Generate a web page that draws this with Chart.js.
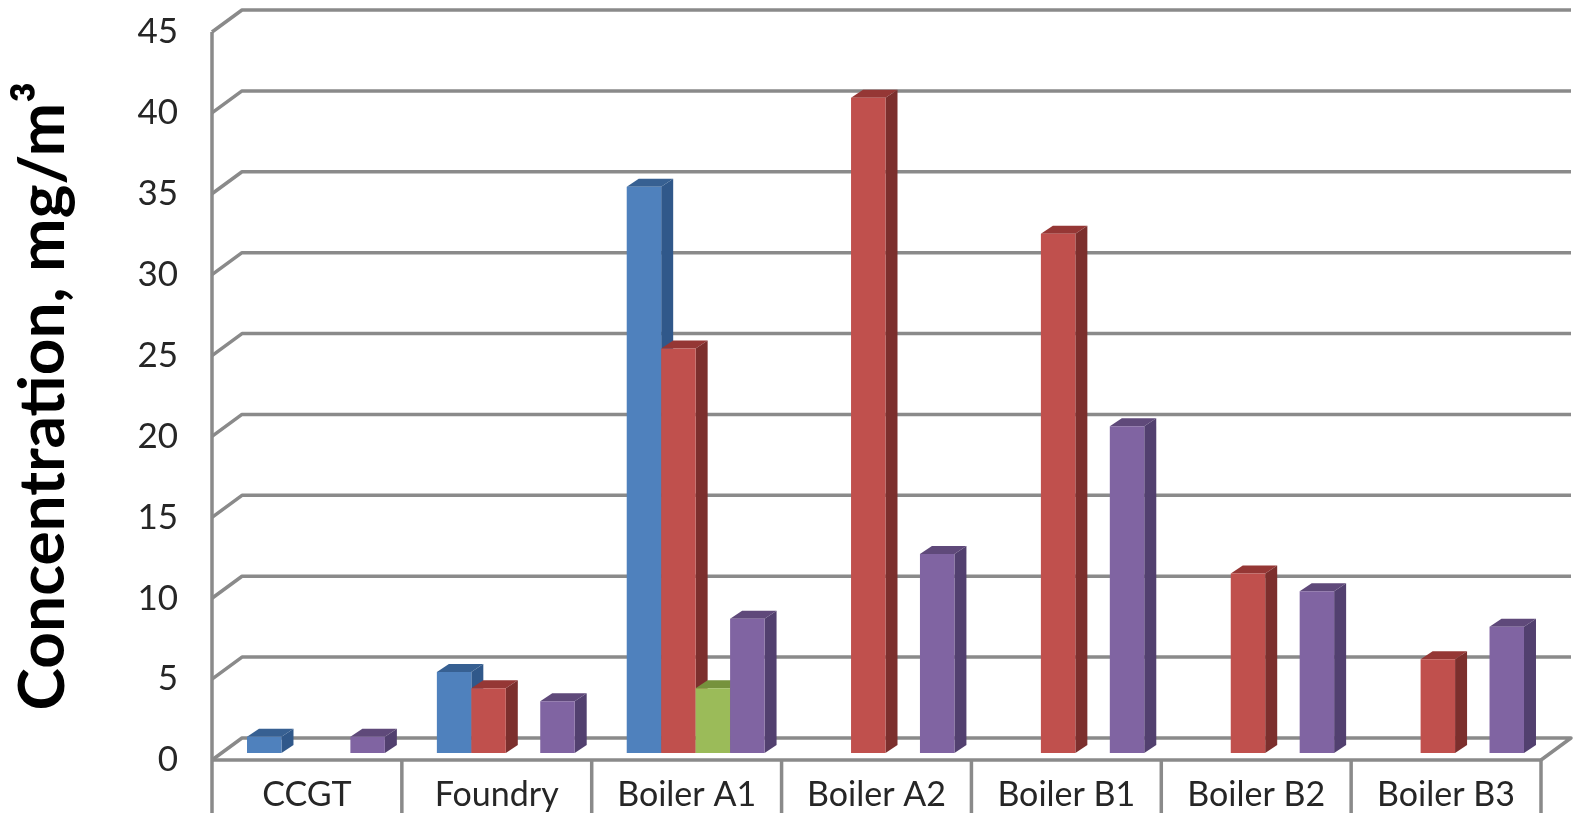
<!DOCTYPE html>
<html>
<head>
<meta charset="utf-8">
<style>
  html, body { margin: 0; padding: 0; background: #fff; overflow: hidden; }
  canvas { display: block; filter: blur(0.7px); }
</style>
<script src="https://cdn.jsdelivr.net/npm/chart.js@4"></script>
</head>
<body>
<canvas id="chart" width="1579" height="813"></canvas>
<script>
const categories = ["CCGT", "Foundry", "Boiler A1", "Boiler A2", "Boiler B1", "Boiler B2", "Boiler B3"];
const series1 = [1, 5, 35, null, null, null, null];
const series2 = [null, 4, 25, 40.5, 32.1, 11.1, 5.8];
const series3 = [null, null, 4, null, null, null, null];
const series4 = [1, 3.2, 8.3, 12.3, 20.2, 10, 7.8];
const yTicks = [0, 5, 10, 15, 20, 25, 30, 35, 40, 45];

const frontColors = ["#4f81bd", "#c0504d", "#9bbb59", "#8064a2"];
const topColors = ["#376092", "#953735", "#76923c", "#5f497a"];
const sideColors = ["#30588a", "#7c2f2d", "#647c34", "#52406f"];

const gridColor = "#8a8a8a";
const WALL_X = 30, WALL_Y = 22;   // depth of the side wall
const BAR_X = 12, BAR_Y = 8;      // depth of a bar
const SHIFT_X = 9, SHIFT_Y = -7;  // bars stand a little behind the front edge

function poly(ctx, color, pts) {
    ctx.fillStyle = color;
    ctx.beginPath();
    pts.forEach((p, i) => i ? ctx.lineTo(p[0], p[1]) : ctx.moveTo(p[0], p[1]));
    ctx.closePath();
    ctx.fill();
}

const walls3d = {
    id: "walls3d",
    beforeDatasetsDraw(chart) {
        const ctx = chart.ctx, x = chart.scales.x, y = chart.scales.y;
        ctx.save();
        ctx.strokeStyle = gridColor;
        ctx.lineWidth = 3.5;
        ctx.lineJoin = "round";
        yTicks.forEach(v => {
            const py = y.getPixelForValue(v);
            ctx.beginPath();
            ctx.moveTo(x.left, py);
            ctx.lineTo(x.left + WALL_X, py - WALL_Y);
            ctx.lineTo(x.right + WALL_X, py - WALL_Y);
            if (v === 0) ctx.lineTo(x.right, py);
            ctx.stroke();
        });
        // floor edge and the category boxes under it
        const base = y.getPixelForValue(0);
        ctx.beginPath();
        ctx.moveTo(x.left, base);
        ctx.lineTo(x.right, base);
        categories.forEach((c, i) => {
            const px = x.left + i * x.width / categories.length;
            ctx.moveTo(px, base);
            ctx.lineTo(px, chart.height);
        });
        ctx.moveTo(x.right, base);
        ctx.lineTo(x.right, chart.height);
        ctx.moveTo(x.left, y.getPixelForValue(45));
        ctx.lineTo(x.left, base);
        ctx.stroke();
        ctx.restore();
    },
    // the library would paint the last dataset first, so paint them here left to right
    beforeDatasetDraw() {
        return false;
    },
    afterDatasetsDraw(chart) {
        const ctx = chart.ctx;
        ctx.save();
        ctx.translate(SHIFT_X, SHIFT_Y);
        chart.data.datasets.forEach((ds, i) => {
            chart.getDatasetMeta(i).data.forEach((bar, j) => {
                if (ds.data[j] === null) return;
                const l = bar.x - bar.width / 2, r = bar.x + bar.width / 2;
                poly(ctx, topColors[i], [[l, bar.y], [l + BAR_X, bar.y - BAR_Y], [r + BAR_X, bar.y - BAR_Y], [r, bar.y]]);
                poly(ctx, sideColors[i], [[r, bar.y], [r + BAR_X, bar.y - BAR_Y], [r + BAR_X, bar.base - BAR_Y], [r, bar.base]]);
                bar.draw(ctx);
            });
        });
        ctx.restore();
    }
};

new Chart(document.getElementById("chart"), {
    type: "bar",
    data: {
        labels: categories,
        datasets: [series1, series2, series3, series4].map((values, i) => ({
            label: "Series " + (i + 1),
            data: values,
            backgroundColor: frontColors[i],
            borderWidth: 0,
            categoryPercentage: 0.726,
            barPercentage: 1
        }))
    },
    options: {
        responsive: false,
        animation: false,
        layout: { padding: { top: 32, right: 38, left: 0, bottom: 0 } },
        plugins: { legend: { display: false }, tooltip: { enabled: false } },
        scales: {
            x: {
                grid: { display: false, drawTicks: false },
                border: { display: false },
                ticks: {
                    color: "#262626",
                    padding: 15,
                    maxRotation: 0,
                    autoSkip: false,
                    font: { family: "Lato", size: 34 }
                },
                afterFit(scale) {
                    scale.height = 53;
                    scale.paddingLeft = scale.paddingRight = 0;
                }
            },
            y: {
                min: 0,
                max: 45,
                grid: { display: false, drawTicks: false },
                border: { display: false },
                afterBuildTicks(scale) { scale.ticks = yTicks.map(v => ({ value: v })); },
                ticks: {
                    color: "#262626",
                    padding: 34,
                    font: { family: "Lato", size: 35 }
                },
                title: {
                    display: true,
                    text: "Concentration, mg/m³",
                    color: "#000",
                    padding: { top: 5, bottom: 0 },
                    font: { family: "Lato", size: 64, weight: "bold" }
                },
                afterFit(scale) {
                    scale.width = 212;
                    scale.paddingTop = scale.paddingBottom = 0;
                }
            }
        }
    },
    plugins: [walls3d]
});
</script>
</body>
</html>
